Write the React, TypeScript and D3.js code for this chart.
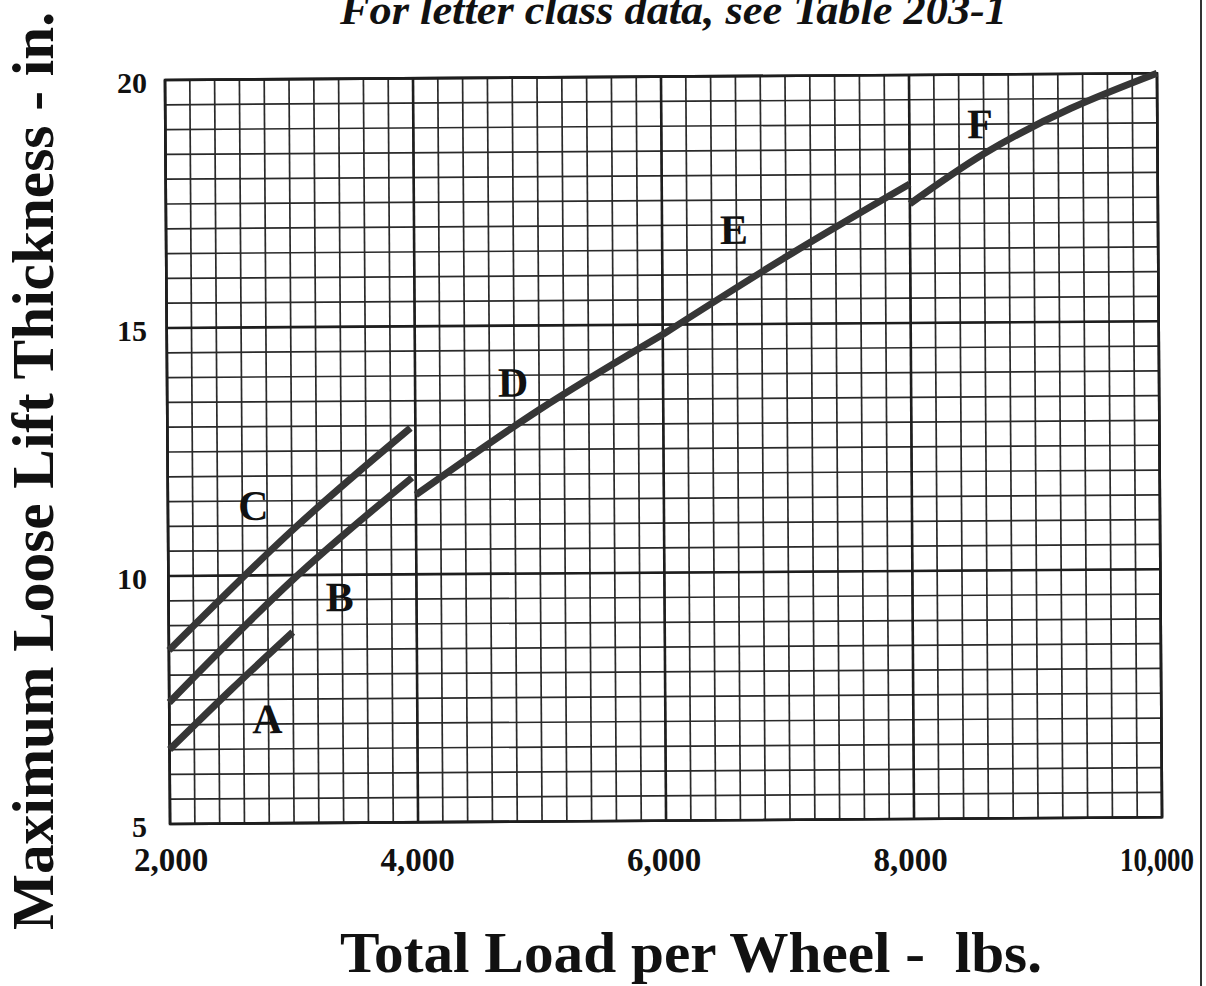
import React, { useEffect, useRef } from 'react';
import * as d3 from 'd3';

// [total load per wheel (lbs), maximum loose lift thickness (in.)]
const classA: [number, number][] = [[2000, 6.5], [2500, 7.7], [3000, 8.85]];
const classB: [number, number][] = [[2000, 7.45], [3000, 9.9], [3970, 11.95]];
const classC: [number, number][] = [[2000, 8.5], [3000, 10.9], [3960, 12.95]];
const classD: [number, number][] = [[4000, 11.6], [5000, 13.3], [6000, 14.8]];
const classE: [number, number][] = [[6000, 14.8], [7000, 16.35], [8000, 17.8]];
const classF: [number, number][] = [[8000, 17.4], [8600, 18.4], [9300, 19.3], [10000, 20.0]];

const curveNames = ['A', 'B', 'C', 'D', 'E', 'F'];
const labelLoads = [2790, 3380, 2690, 4790, 6580, 8570];
const labelLifts = [7.1, 9.55, 11.4, 13.85, 16.9, 19.0];

const xTickValues = [2000, 4000, 6000, 8000, 10000];
const yTickValues = [5, 10, 15, 20];

const title = 'For letter class data, see Table 203-1';
const xTitle = 'Total Load per Wheel -  lbs.';
const yTitle = 'Maximum Loose Lift Thickness - in.';

const App: React.FC = () => {
    const svgRef = useRef<SVGSVGElement | null>(null);

    useEffect(() => {
        const width = 1206;
        const height = 986;
        const plotW = 992;
        const plotH = 744;
        const serif = "'Liberation Serif', 'Times New Roman', serif";
        const ink = '#1e1e1e';

        const svg = d3.select(svgRef.current)
            .attr('width', width)
            .attr('height', height);
        svg.selectAll('*').remove();

        svg.append('rect')
            .attr('width', width)
            .attr('height', height)
            .attr('fill', '#fff');

        const x = d3.scaleLinear().domain([2000, 10000]).range([0, plotW]);
        const y = d3.scaleLinear().domain([5, 20]).range([plotH, 0]);

        // the scanned graph paper sits slightly askew
        const plot = svg.append('g')
            .attr('transform', 'translate(165,80) rotate(-0.39)');

        plot.selectAll('.vminor')
            .data(x.ticks(40))
            .enter()
            .append('line')
            .attr('x1', d => x(d)).attr('x2', d => x(d))
            .attr('y1', 0).attr('y2', plotH)
            .attr('stroke', '#2a2a2a')
            .attr('stroke-width', 1.7);

        plot.selectAll('.hminor')
            .data(y.ticks(30))
            .enter()
            .append('line')
            .attr('x1', 0).attr('x2', plotW)
            .attr('y1', d => y(d)).attr('y2', d => y(d))
            .attr('stroke', '#2a2a2a')
            .attr('stroke-width', 1.7);

        plot.selectAll('.vmajor')
            .data(xTickValues)
            .enter()
            .append('line')
            .attr('x1', d => x(d)).attr('x2', d => x(d))
            .attr('y1', 0).attr('y2', plotH)
            .attr('stroke', ink)
            .attr('stroke-width', 2.6);

        plot.selectAll('.hmajor')
            .data(yTickValues)
            .enter()
            .append('line')
            .attr('x1', 0).attr('x2', plotW)
            .attr('y1', d => y(d)).attr('y2', d => y(d))
            .attr('stroke', ink)
            .attr('stroke-width', 2.6);

        plot.append('rect')
            .attr('width', plotW)
            .attr('height', plotH)
            .attr('fill', 'none')
            .attr('stroke', ink)
            .attr('stroke-width', 2.6);

        const line = d3.line<[number, number]>()
            .x(d => x(d[0]))
            .y(d => y(d[1]))
            .curve(d3.curveNatural);

        const curves = [classA, classB, classC, classD, classE, classF];
        plot.selectAll('.curve')
            .data(curves)
            .enter()
            .append('path')
            .attr('d', d => line(d) || '')
            .attr('fill', 'none')
            .attr('stroke', '#363636')
            .attr('stroke-width', 7)
            .attr('stroke-linecap', 'butt');

        plot.selectAll('.curve-label')
            .data(curveNames)
            .enter()
            .append('text')
            .attr('x', (_, i) => x(labelLoads[i]))
            .attr('y', (_, i) => y(labelLifts[i]))
            .attr('text-anchor', 'middle')
            .attr('dominant-baseline', 'central')
            .style('font-family', serif)
            .style('font-weight', 'bold')
            .style('font-size', '42px')
            .attr('fill', '#111')
            .text(d => d);

        // tick labels are printed straight, not with the grid
        const xLabel = d3.scaleLinear().domain([2000, 10000]).range([171, 1157]);
        const yLabel = d3.scaleLinear().domain([5, 20]).range([826, 82]);

        svg.selectAll('.xtick')
            .data(xTickValues)
            .enter()
            .append('text')
            .attr('x', d => xLabel(d))
            .attr('y', 871)
            .attr('text-anchor', 'middle')
            .attr('textLength', d => (d === 10000 ? 74 : null))
            .attr('lengthAdjust', 'spacingAndGlyphs')
            .style('font-family', serif)
            .style('font-weight', 'bold')
            .style('font-size', '33px')
            .attr('fill', '#111')
            .text(d => d3.format(',')(d));

        svg.selectAll('.ytick')
            .data(yTickValues)
            .enter()
            .append('text')
            .attr('x', 147)
            .attr('y', d => yLabel(d))
            .attr('text-anchor', 'end')
            .attr('dominant-baseline', 'central')
            .style('font-family', serif)
            .style('font-weight', 'bold')
            .style('font-size', '30px')
            .attr('fill', '#111')
            .text(d => String(d));

        svg.append('text')
            .attr('x', 340)
            .attr('y', 24)
            .attr('textLength', 667)
            .attr('lengthAdjust', 'spacingAndGlyphs')
            .style('font-family', serif)
            .style('font-weight', 'bold')
            .style('font-style', 'italic')
            .style('font-size', '42px')
            .attr('fill', '#111')
            .text(title);

        svg.append('text')
            .attr('x', 340)
            .attr('y', 972)
            .attr('textLength', 702)
            .attr('lengthAdjust', 'spacingAndGlyphs')
            .style('white-space', 'pre')
            .style('font-family', serif)
            .style('font-weight', 'bold')
            .style('font-size', '58px')
            .attr('fill', '#111')
            .text(xTitle);

        svg.append('text')
            .attr('transform', 'translate(53,930) rotate(-90)')
            .attr('textLength', 918)
            .attr('lengthAdjust', 'spacingAndGlyphs')
            .style('font-family', serif)
            .style('font-weight', 'bold')
            .style('font-size', '60px')
            .attr('fill', '#111')
            .text(yTitle);

        // page edge on the right
        svg.append('line')
            .attr('x1', 1201).attr('x2', 1201)
            .attr('y1', 0).attr('y2', height)
            .attr('stroke', '#333')
            .attr('stroke-width', 2);
    }, []);

    return <svg ref={svgRef} style={{ position: 'absolute', left: 0, top: 0 }}></svg>;
};

export default App;
